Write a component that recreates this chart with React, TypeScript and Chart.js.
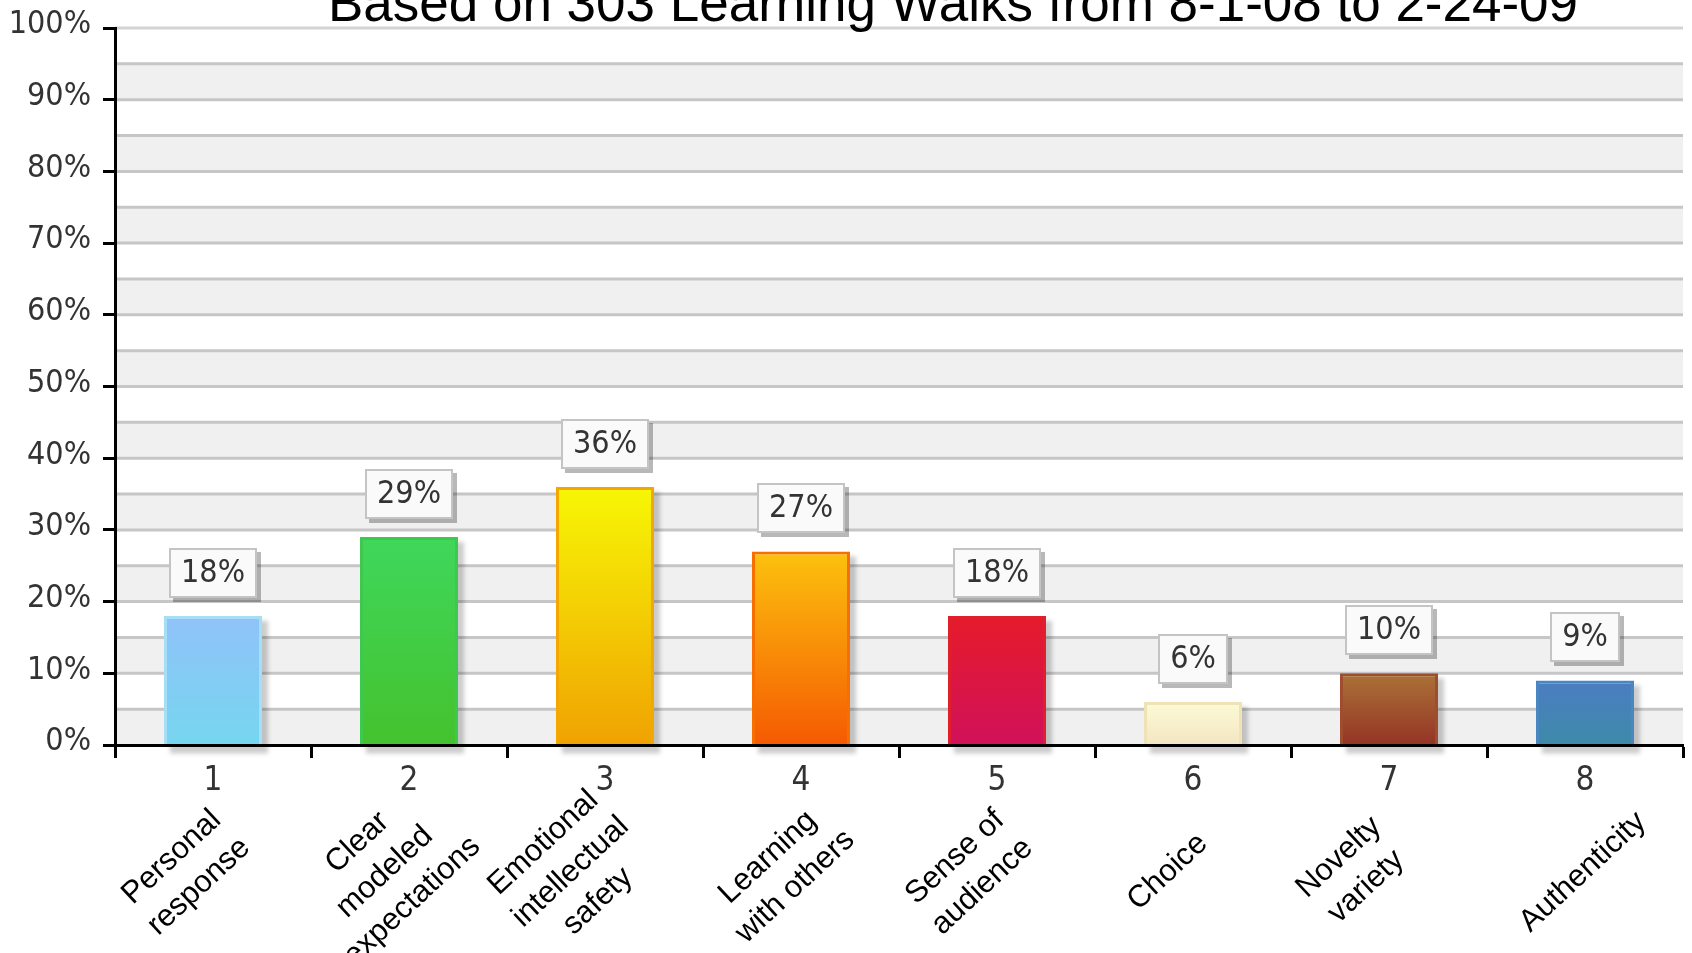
import React, { useEffect, useRef } from 'react';
import { Chart, registerables } from 'chart.js';

Chart.register(...registerables);

// ---------- data ----------
const categories = ['1', '2', '3', '4', '5', '6', '7', '8'];
const categoryNames: string[][] = [
  ['Personal', 'response'],
  ['Clear', 'modeled', 'expectations'],
  ['Emotional', 'intellectual', 'safety'],
  ['Learning', 'with others'],
  ['Sense of', 'audience'],
  ['Choice'],
  ['Novelty', 'variety'],
  ['Authenticity'],
];
const percentValues = [18, 29, 36, 27, 18, 6, 10, 9];
const titleText = 'Based on 303 Learning Walks from 8-1-08 to 2-24-09';

// ---------- styles ----------
const barTopColors = ['#90c2f9', '#3fd75c', '#f7f706', '#fcc20e', '#e51b2a', '#fcfad6', '#ab7238', '#4c7dc2'];
const barBottomColors = ['#76d6ef', '#45c22e', '#f0a202', '#f55a02', '#d1115a', '#f4e6c2', '#943425', '#3d8aa9'];
const barBorderColors = ['#a6def5', '#3ec94e', '#f3a800', '#f76f00', '#e01f2c', '#efe2b6', '#a04c2f', '#4a86c0'];

const NARROW = "'Liberation Sans Narrow', 'DejaVu Sans Condensed', 'Liberation Sans', sans-serif";
const SANS = "'Liberation Sans', Arial, sans-serif";
const W = 1692;
const H = 953;

const backgroundPlugin = {
  id: 'bandsAndGrid',
  beforeDraw(chart: any) {
    const { ctx, chartArea, scales } = chart;
    const y = scales.y;
    const { left, right } = chartArea;
    ctx.save();
    ctx.fillStyle = '#ffffff';
    ctx.fillRect(0, 0, chart.width, chart.height);
    ctx.fillStyle = '#f0f0f0';
    for (let v = 0; v < 100; v += 10) {
      const t = y.getPixelForValue(v + 5);
      const b = y.getPixelForValue(v);
      ctx.fillRect(left, t, right - left, b - t);
    }
    ctx.lineWidth = 3;
    for (let v = 5; v <= 100; v += 5) {
      const p = y.getPixelForValue(v);
      ctx.strokeStyle = v === 100 ? '#d4d4d4' : '#c6c6c6';
      ctx.beginPath();
      ctx.moveTo(left, p);
      ctx.lineTo(right, p);
      ctx.stroke();
    }
    ctx.restore();
  },
};

const shadowPlugin = {
  id: 'barShadows',
  beforeDatasetsDraw(chart: any) {
    const { ctx } = chart;
    const meta = chart.getDatasetMeta(0);
    ctx.save();
    ctx.fillStyle = 'rgba(0,0,0,0.2)';
    ctx.filter = 'blur(2px)';
    meta.data.forEach((bar: any) => {
      const { x, y, base, width } = bar.getProps(['x', 'y', 'base', 'width'], true);
      ctx.fillRect(x - width / 2 + 6, y + 5, width, base - y + 4);
    });
    ctx.restore();
  },
};

const labelPlugin = {
  id: 'valueBoxes',
  afterDraw(chart: any) {
    const { ctx, chartArea, scales } = chart;
    const meta = chart.getDatasetMeta(0);
    ctx.save();
    // value boxes
    ctx.font = `32px ${NARROW}`;
    meta.data.forEach((bar: any, i: number) => {
      const { x, y } = bar.getProps(['x', 'y'], true);
      const text = percentValues[i] + '%';
      const tw = ctx.measureText(text).width;
      const bw = Math.round(tw + 24);
      const bh = 50;
      const bx = Math.round(x - bw / 2);
      const by = Math.round(y - 18 - bh);
      ctx.fillStyle = 'rgba(0,0,0,0.28)';
      ctx.fillRect(bx + 4, by + 4, bw, bh);
      ctx.fillStyle = '#fafafa';
      ctx.fillRect(bx, by, bw, bh);
      ctx.strokeStyle = '#c4c4c4';
      ctx.lineWidth = 2;
      ctx.strokeRect(bx + 1, by + 1, bw - 2, bh - 2);
      ctx.fillStyle = '#333333';
      ctx.textAlign = 'center';
      ctx.textBaseline = 'middle';
      ctx.fillText(text, x, by + bh / 2 + 1);
    });
    // rotated category names (pivot near lower-left of each text block)
    const xs = scales.x;
    const fontSize = 31;
    const lineH = 40;
    const ang = (43 * Math.PI) / 180;
    ctx.font = `${fontSize}px ${SANS}`;
    ctx.fillStyle = '#000000';
    ctx.textAlign = 'center';
    ctx.textBaseline = 'middle';
    categoryNames.forEach((lines, i) => {
      const wb = Math.max(...lines.map((l) => ctx.measureText(l).width));
      const hb = lines.length * lineH;
      const cx = xs.getPixelForValue(i) - 47 + (Math.cos(ang) * wb) / 2 - (Math.sin(ang) * hb) / 2;
      const cy = chartArea.bottom + 127;
      ctx.save();
      ctx.translate(cx, cy);
      ctx.rotate(-ang);
      lines.forEach((ln, j) => {
        ctx.fillText(ln, 0, (j - (lines.length - 1) / 2) * lineH);
      });
      ctx.restore();
    });
    // clipped title
    ctx.font = `53px ${SANS}`;
    ctx.fillStyle = '#000000';
    ctx.textAlign = 'center';
    ctx.textBaseline = 'alphabetic';
    ctx.fillText(titleText, (chartArea.left + chartArea.right) / 2 + 54, 21);
    ctx.restore();
  },
};

function makeGradient(ctx: any, i: number, value: number) {
  const chart = ctx.chart;
  const y = chart.scales && chart.scales.y;
  if (!chart.chartArea || !y) return barTopColors[i];
  const top = y.getPixelForValue(value);
  const bottom = y.getPixelForValue(0);
  const g = chart.ctx.createLinearGradient(0, top, 0, bottom);
  g.addColorStop(0, barTopColors[i]);
  g.addColorStop(1, barBottomColors[i]);
  return g;
}

export default function App() {
  const ref = useRef<HTMLCanvasElement | null>(null);
  useEffect(() => {
    document.body.style.margin = '0';
    const canvas = ref.current!;
    const chart = new Chart(canvas, {
      type: 'bar',
      data: {
        labels: categories,
        datasets: [
          {
            data: percentValues,
            backgroundColor: (c: any) => makeGradient(c, c.dataIndex, percentValues[c.dataIndex]),
            borderColor: barBorderColors,
            borderWidth: 3,
            barPercentage: 0.5,
            categoryPercentage: 1,
          },
        ],
      },
      options: {
        responsive: false,
        animation: false,
        layout: { padding: { top: 28, right: 9, left: 0, bottom: 0 } },
        plugins: {
          legend: { display: false },
          title: { display: false },
          tooltip: { enabled: false },
        },
        scales: {
          x: {
            grid: {
              offset: true,
              drawOnChartArea: false,
              drawTicks: true,
              tickLength: 13,
              tickColor: '#000000',
              tickWidth: 3,
            },
            border: { display: true, color: '#000000', width: 3, z: 1 },
            ticks: {
              color: '#333333',
              font: { family: NARROW, size: 33 },
              padding: 4,
              maxRotation: 0,
              minRotation: 0,
            },
            afterFit: (s: any) => {
              s.height = 208;
            },
          },
          y: {
            min: 0,
            max: 100,
            ticks: {
              stepSize: 10,
              color: '#333333',
              font: { family: NARROW, size: 32 },
              padding: 12,
              labelOffset: -3,
              callback: (v: any) => v + '%',
            },
            grid: {
              drawOnChartArea: false,
              drawTicks: true,
              tickLength: 12,
              tickColor: '#000000',
              tickWidth: 3,
            },
            border: { display: true, color: '#000000', width: 3, z: 1 },
            afterFit: (s: any) => {
              s.width = 115;
              s.paddingTop = 0;
              s.paddingBottom = 0;
            },
          },
        },
      },
      plugins: [backgroundPlugin, shadowPlugin, labelPlugin],
    } as any);
    return () => chart.destroy();
  }, []);
  return (
    <div style={{ position: 'absolute', left: 0, top: 0, width: W, height: H }}>
      <canvas ref={ref} width={W} height={H} style={{ display: 'block' }} />
    </div>
  );
}
